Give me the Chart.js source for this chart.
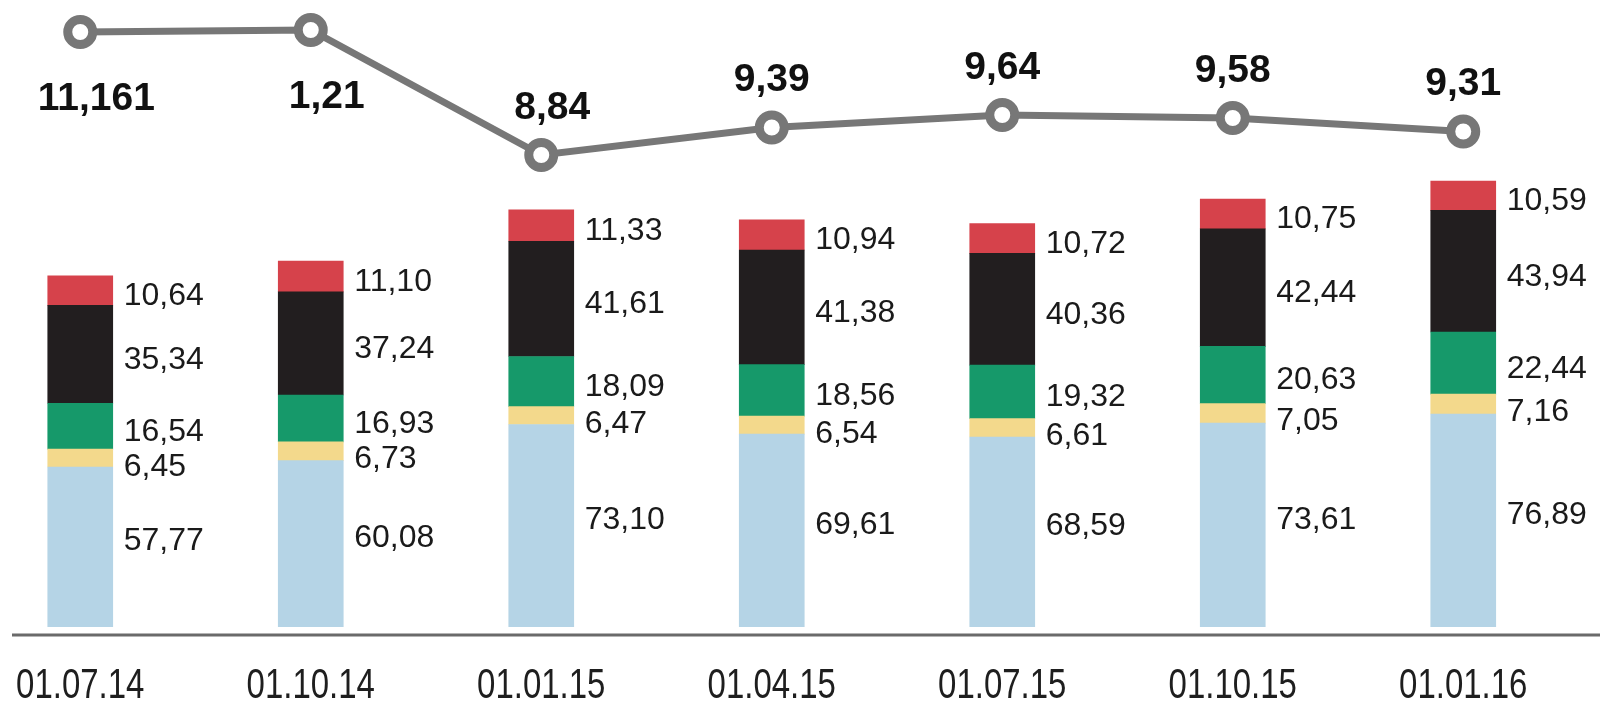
<!DOCTYPE html>
<html>
<head>
<meta charset="utf-8">
<script src="https://cdn.jsdelivr.net/npm/chart.js@4/dist/chart.umd.min.js"></script>
<style>
  html, body { margin: 0; padding: 0; background: #ffffff; overflow: hidden; width: 1600px; height: 703px; }
  #wrap { position: absolute; left: -35px; top: 0; width: 1650px; height: 703px; }
</style>
</head>
<body>
<div id="wrap"><canvas id="c"></canvas></div>
<script>
// ---- data ----
const categories = ['01.07.14', '01.10.14', '01.01.15', '01.04.15', '01.07.15', '01.10.15', '01.01.16'];
const lightBlue = [57.77, 60.08, 73.10, 69.61, 68.59, 73.61, 76.89];
const yellow    = [6.45, 6.73, 6.47, 6.54, 6.61, 7.05, 7.16];
const green     = [16.54, 16.93, 18.09, 18.56, 19.32, 20.63, 22.44];
const black     = [35.34, 37.24, 41.61, 41.38, 40.36, 42.44, 43.94];
const red       = [10.64, 11.10, 11.33, 10.94, 10.72, 10.75, 10.59];
const lineValues = [11.30, 11.34, 8.84, 9.39, 9.64, 9.58, 9.31];
const lineLabels = ['11,161', '1,21', '8,84', '9,39', '9,64', '9,58', '9,31'];

const fmt = v => v.toFixed(2).replace('.', ',');

const labelPlugin = {
  id: 'labels',
  afterDatasetsDraw(chart) {
    const ctx = chart.ctx;
    ctx.save();
    // axis line
    ctx.strokeStyle = '#6a6a6a';
    ctx.lineWidth = 3;
    ctx.beginPath();
    ctx.moveTo(47, 635);
    ctx.lineTo(chart.width, 635);
    ctx.stroke();

    // segment labels
    ctx.fillStyle = '#1a1a1a';
    ctx.font = '32px "Liberation Sans", Arial, sans-serif';
    ctx.textAlign = 'left';
    ctx.textBaseline = 'alphabetic';
    const cap = 0.716 * 32;
    for (let d = 0; d < 5; d++) {
      const meta = chart.getDatasetMeta(d);
      const data = chart.data.datasets[d].data;
      meta.data.forEach((el, i) => {
        const top = Math.min(el.y, el.base), bot = Math.max(el.y, el.base);
        let cy = (top + bot) / 2 + 3;
        if (d === 0) cy = (top + bot) / 2 - 8;
        if (d === 1) cy = top + 15;
        const x = el.x + el.width / 2 + 11;
        ctx.fillText(fmt(data[i]), x, cy + cap / 2);
      });
    }

    // line labels
    const lmeta = chart.getDatasetMeta(5);
    ctx.font = 'bold 39px "Liberation Sans", Arial, sans-serif';
    ctx.textAlign = 'center';
    ctx.fillStyle = '#111111';
    const lcap = 0.716 * 39;
    lmeta.data.forEach((pt, i) => {
      let cx = pt.x, cy;
      if (pt.y < 70) { cy = pt.y + 64; cx += 16; }
      else {
        cy = pt.y - 50;
        const prev = lmeta.data[i - 1];
        if (prev && prev.y < pt.y - 60) cx += 11;
      }
      ctx.fillText(lineLabels[i], cx, cy + lcap / 2);
    });

    // category labels (condensed)
    const bmeta = chart.getDatasetMeta(0);
    ctx.font = '42px "Liberation Sans", Arial, sans-serif';
    ctx.fillStyle = '#1e1e1e';
    ctx.textAlign = 'center';
    const sx = 0.785;
    bmeta.data.forEach((el, i) => {
      ctx.save();
      ctx.translate(el.x, 698);
      ctx.scale(sx, 1);
      ctx.fillText(categories[i], 0, 0);
      ctx.restore();
    });
    ctx.restore();
  }
};

const barDs = (label, data, color) => ({
  type: 'bar', label, data, backgroundColor: color, borderWidth: 0,
  barThickness: 65, yAxisID: 'y', stack: 's', order: 2
});

new Chart(document.getElementById('c'), {
  data: {
    labels: categories,
    datasets: [
      barDs('A', lightBlue, '#b5d4e6'),
      barDs('B', yellow, '#f3d98c'),
      barDs('C', green, '#16996a'),
      barDs('D', black, '#221e1f'),
      barDs('E', red, '#d6424b'),
      {
        type: 'line', label: 'L', data: lineValues, yAxisID: 'y1', order: 0,
        borderColor: '#777777', borderWidth: 7, tension: 0,
        pointRadius: 12.5, pointBorderWidth: 9, pointBackgroundColor: '#ffffff',
        pointBorderColor: '#777777', clip: false
      }
    ]
  },
  options: {
    responsive: true,
    maintainAspectRatio: false,
    animation: false,
    devicePixelRatio: 1,
    layout: { autoPadding: false, padding: { left: 0, right: 36.5, top: 0, bottom: 76 } },
    plugins: { legend: { display: false }, tooltip: { enabled: false } },
    scales: {
      x: { display: false, stacked: true, offset: true },
      y: { display: false, stacked: true, min: 0, max: 226.35 },
      y1: { display: false, stacked: false, min: -0.6, max: 11.94 }
    }
  },
  plugins: [labelPlugin]
});
</script>
</body>
</html>
